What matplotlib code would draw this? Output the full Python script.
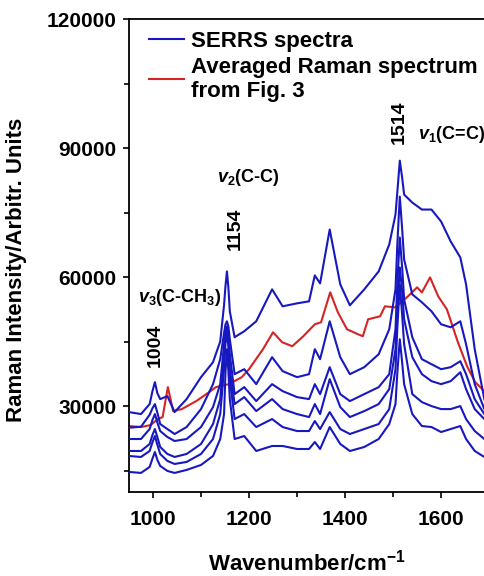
import numpy as np
import matplotlib
matplotlib.use("Agg")
import matplotlib.pyplot as plt

wavenumber = [950, 975, 993, 999, 1004, 1009, 1015, 1030, 1045, 1070, 1100, 1125, 1140, 1148,
              1151, 1154, 1157, 1160, 1170, 1190, 1215, 1248, 1270, 1300, 1325, 1337, 1348,
              1368, 1390, 1410, 1440, 1470, 1492, 1505, 1509, 1514, 1519, 1523, 1540, 1560,
              1580, 1600, 1620, 1640, 1652, 1670, 1690, 1710]

serrs_1 = [28592, 28128, 30448, 33500, 35552, 33000, 31608, 32304, 28592, 31608, 36712, 40192,
           45000, 53500, 58000, 61304, 57500, 52000, 46000, 47384, 49704, 57128, 53184, 53880,
           54344, 60376, 58520, 71048, 58288, 53416, 57128, 61304, 67568, 74528, 80000, 87056,
           83000, 79168, 77312, 75688, 75688, 72904, 68264, 64552, 58288, 43208, 31608, 25808]
serrs_2 = [24952, 25184, 27968, 29500, 30448, 28500, 25808, 24648, 23488, 25112, 29288, 35088,
           40888, 47000, 49000, 49704, 48500, 45528, 37408, 38568, 35088, 41352, 38104, 36712,
           37408, 43208, 40888, 49704, 41352, 37408, 39032, 42048, 47848, 57128, 68000, 78704,
           71000, 64088, 55968, 54112, 52024, 49008, 48312, 49704, 44368, 35088, 29288, 25808]
serrs_3 = [22328, 22328, 24648, 26800, 28128, 26200, 24184, 22792, 21864, 22328, 25112, 29752,
           35088, 44368, 47500, 48544, 47000, 42048, 32768, 34392, 31144, 35088, 33464, 32072,
           31608, 35088, 32768, 39032, 32768, 31144, 32768, 34392, 37408, 47848, 59000, 69192,
           62000, 54808, 45992, 40888, 39728, 38568, 39032, 40424, 37408, 31608, 28128, 25808]
serrs_4 = [19544, 19544, 21168, 23300, 24648, 22800, 20472, 18848, 18152, 18848, 21168, 25808,
           31608, 42048, 46500, 47848, 46000, 38568, 30448, 32072, 28824, 31608, 29288, 28128,
           27432, 30448, 28128, 36248, 29752, 27432, 28824, 30448, 33928, 43208, 53000, 62232,
           56500, 50168, 41352, 37408, 35784, 35088, 35784, 37872, 33928, 29288, 26968, 24648]
serrs_5 = [18384, 18152, 19544, 21600, 23024, 21000, 18848, 17224, 16528, 16992, 18848, 22328,
           28128, 38568, 44500, 46688, 44000, 36248, 26968, 28128, 25112, 26968, 25112, 24184,
           24184, 26504, 24648, 28592, 24648, 23488, 24648, 25808, 29288, 38568, 48500, 58288,
           51000, 44368, 32768, 30912, 29984, 29288, 29288, 29984, 26968, 24184, 22328, 20472]
serrs_6 = [14672, 14440, 15832, 17800, 19312, 17500, 16064, 14904, 14440, 15136, 16296, 18384,
           22328, 28128, 38000, 43208, 38000, 31608, 22328, 23024, 19544, 20704, 20704, 20008,
           20008, 21632, 20008, 25112, 21168, 19544, 20472, 22328, 25808, 30448, 38000, 45528,
           40000, 35088, 28128, 25344, 25112, 23952, 24648, 25344, 22328, 19544, 18152, 17224]

# averaged Raman spectrum from Fig. 3
raman_wn = [950, 975, 995, 1010, 1020, 1031, 1042, 1060, 1090, 1117, 1131, 1158, 1185, 1200,
            1229, 1250, 1269, 1290, 1313, 1337, 1350, 1369, 1385, 1404, 1427, 1437, 1448,
            1473, 1483, 1504, 1531, 1550, 1560, 1577, 1594, 1612, 1635, 1654, 1671, 1690, 1710]
raman_avg = [25344, 25112, 25576, 26968, 27432, 34392, 28824, 29288, 31144, 33232, 34392,
             35088, 36712, 38568, 43208, 47152, 44832, 43904, 46224, 49008, 49472, 56432,
             51792, 47848, 46688, 46224, 50168, 50864, 53184, 52952, 55504, 57592, 56432,
             59912, 55504, 52488, 44832, 39264, 35552, 33464, 32304]

x_ticks = [1000, 1200, 1400, 1600]
y_ticks = [30000, 60000, 90000, 120000]

plt.rcParams['font.family'] = ['Liberation Sans', 'DejaVu Sans']
plt.rcParams['font.weight'] = 'bold'
plt.rcParams['mathtext.fontset'] = 'custom'
plt.rcParams['mathtext.rm'] = 'Liberation Sans:bold'
plt.rcParams['mathtext.it'] = 'Liberation Sans:italic:bold'
plt.rcParams['mathtext.bf'] = 'Liberation Sans:bold'

blue = '#1818C0'
red = '#D42424'

fig = plt.figure(figsize=(4.84, 5.76), dpi=100)
ax = fig.add_axes([0.2665, 0.1458, 0.754, 0.8212])

ax.plot(raman_wn, raman_avg, color=red, lw=1.5, zorder=2)
for s in [serrs_1, serrs_2, serrs_3, serrs_4, serrs_5, serrs_6]:
    ax.plot(wavenumber, s, color=blue, lw=1.5, zorder=3)

# legend handles (blue first, as in the original)
h1, = ax.plot([], [], color=blue, lw=1.5, label='SERRS spectra')
h2, = ax.plot([], [], color=red, lw=1.5, label='Averaged Raman spectrum\nfrom Fig. 3')
leg = ax.legend(handles=[h1, h2], loc='upper left', bbox_to_anchor=(0.02, 1.0),
                frameon=False, fontsize=16, handlelength=1.6, handletextpad=0.3,
                labelspacing=0.2, borderaxespad=0.15)
leg.get_texts()[1].set_linespacing(1.18)

ax.set_xlim(950, 1710)
ax.set_ylim(10000, 120000)
ax.set_xticks(x_ticks)
ax.set_xticks([1100, 1300, 1500, 1700], minor=True)
ax.set_yticks(y_ticks)
ax.set_yticks([15000, 45000, 75000, 105000], minor=True)
ax.tick_params(axis='both', which='major', direction='out', length=4.3, width=1.2,
               labelsize=15)
ax.tick_params(axis='x', which='major', pad=9)
ax.tick_params(axis='y', which='major', pad=4.5)
ax.tick_params(axis='both', which='minor', direction='out', length=3.5, width=1.2)
for sp in ax.spines.values():
    sp.set_linewidth(1.3)

ax.set_xlabel('Wavenumber/cm$^{-1}$', fontsize=16, fontweight='bold')
ax.set_ylabel('Raman Intensity/Arbitr. Units', fontsize=16, fontweight='bold')
ax.xaxis.label.set_verticalalignment('center')
ax.xaxis.set_label_coords(0.488, -0.150)
ax.yaxis.label.set_verticalalignment('center')
ax.yaxis.set_label_coords(-0.307, 0.469)

# peak labels
ax.text(1004, 44100, '1004', rotation=90, ha='center', va='center', fontsize=14)
ax.text(1171, 71300, '1154', rotation=90, ha='center', va='center', fontsize=14)
ax.text(1512, 96100, '1514', rotation=90, ha='center', va='center', fontsize=14)
ax.text(969, 55300, r'$v_3$(C-CH$_3$)', ha='left', va='center', fontsize=13)
ax.text(1133, 83100, r'$v_2$(C-C)', ha='left', va='center', fontsize=13)
ax.text(1552, 93100, r'$v_1$(C=C)', ha='left', va='center', fontsize=13)

fig.savefig('out.png', dpi=100)
